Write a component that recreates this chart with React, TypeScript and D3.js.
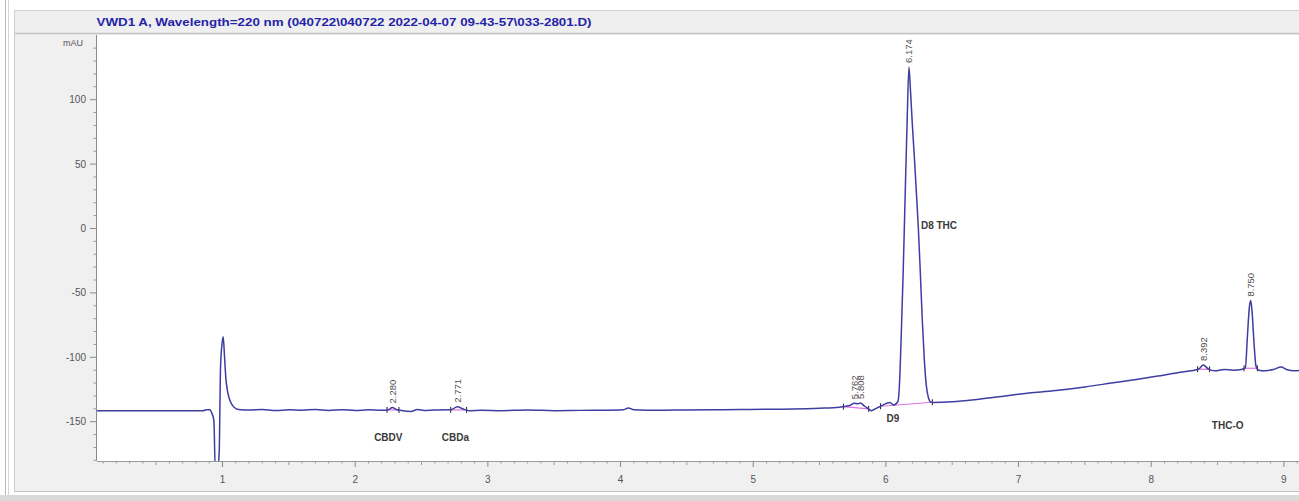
import React from "react";
import * as d3 from "d3";

// ---- data ----
const TITLE = "VWD1 A, Wavelength=220 nm (040722\\040722 2022-04-07 09-43-57\\033-2801.D)";
const Y_UNIT = "mAU";
const xTicks = [1, 2, 3, 4, 5, 6, 7, 8, 9];
const yTicks = [-150, -100, -50, 0, 50, 100];
const xDomain = [0.054, 9.114];
const yDomain = [-180.5, 150.2];

// detector trace: retention time (min) and absorbance (mAU)
const traceTime = [
  0.05, 0.5, 0.85, 0.88, 0.905, 0.92, 0.935, 0.945, 0.965, 0.975, 0.985, 0.995, 1.005, 1.015,
  1.025, 1.04, 1.06, 1.09, 1.12, 1.2, 1.3, 1.4, 1.5, 1.6, 1.7, 1.8, 1.9, 2.0, 2.1, 2.2, 2.25,
  2.28, 2.31, 2.35, 2.42, 2.47, 2.52, 2.6, 2.72, 2.771, 2.81, 2.86, 2.95, 3.1, 3.3, 3.5, 3.7,
  3.9, 4.02, 4.06, 4.1, 4.3, 4.5, 4.7, 4.9, 5.1, 5.3, 5.5, 5.65, 5.7, 5.73, 5.762, 5.79, 5.808,
  5.84, 5.87, 5.89, 5.93, 5.97, 6.0, 6.03, 6.06, 6.09, 6.1, 6.115, 6.13, 6.145, 6.16, 6.174,
  6.185, 6.2, 6.215, 6.23, 6.245, 6.26, 6.275, 6.29, 6.305, 6.32, 6.34, 6.36, 6.5, 6.7, 6.9,
  7.1, 7.3, 7.5, 7.7, 7.9, 8.05, 8.2, 8.3, 8.36, 8.392, 8.43, 8.48, 8.55, 8.62, 8.68, 8.71,
  8.725, 8.74, 8.75, 8.76, 8.775, 8.79, 8.81, 8.86, 8.92, 8.98, 9.02, 9.08, 9.14,
];
const traceMAU = [
  -141.5, -141.5, -141.5, -140.7, -140.8, -143.5, -149, -185, -185, -174, -108, -91, -84, -99,
  -116, -127.5, -134.5, -139, -140.5, -141, -140.5, -141.3, -140.8, -141.1, -140.5, -141.2,
  -140.7, -141.3, -140.8, -141.1, -140.7, -139, -140.5, -141.3, -142, -140.5, -141.2, -140.9,
  -140.8, -138.3, -140, -141.5, -141.1, -141.4, -141, -141.4, -141.2, -141.1, -140.8, -139.3,
  -140.7, -141.1, -140.9, -140.8, -140.6, -140.3, -140.1, -139.5, -138.7, -138, -137.3, -135.7,
  -136.1, -135.5, -138, -140, -141.5, -139.5, -137.5, -136, -135, -137, -134.5, -126, -86, -36,
  24, 82, 125.4, 108, 80, 55, 28, 0, -35, -72, -102, -122, -131, -134.8, -135, -134.5, -132.5,
  -130, -127.5, -125.5, -123, -120, -117, -114.5, -112, -110.5, -109, -106, -109, -110.5,
  -109.5, -110, -109.5, -108, -84, -61, -56, -64, -89, -107, -110, -110.5, -109.5, -107.5,
  -109.5, -110.5, -110,
];

// labelled apexes
const peakTimes = [2.28, 2.771, 5.762, 5.808, 6.174, 8.392, 8.75];
const peakLabels = ["2.280", "2.771", "5.762", "5.808", "6.174", "8.392", "8.750"];

// compound names
const compoundNames = ["CBDV", "CBDa", "D9", "D8 THC", "THC-O"];
const compoundTimes = [2.28, 2.771, 6.03, 6.174, 8.75];

// integration baselines (start / end retention times)
const baseStart = [2.24, 2.72, 5.68, 5.96, 8.35, 8.7];
const baseEnd = [2.33, 2.84, 5.87, 6.35, 8.44, 8.8];

// ---- layout ----
const W = 1299;
const H = 501;
const PL = 97;
const PT = 35;
const PB = 461;
const PR = W;

const FONT = "'Liberation Sans', Arial, sans-serif";

const namePlacement = [
  { dx: -4, y: 441, anchor: "middle" },
  { dx: -2, y: 441, anchor: "middle" },
  { dx: 3, y: 422, anchor: "middle" },
  { dx: 12, y: 229, anchor: "start" },
  { dx: -23, y: 429, anchor: "middle" },
];

function valueAt(t: number): number {
  const i = d3.bisectLeft(traceTime, t);
  if (i <= 0) return traceMAU[0];
  if (i >= traceTime.length) return traceMAU[traceMAU.length - 1];
  const t0 = traceTime[i - 1];
  const t1 = traceTime[i];
  const f = (t - t0) / (t1 - t0);
  return traceMAU[i - 1] + f * (traceMAU[i] - traceMAU[i - 1]);
}

export default function App() {
  const x = d3.scaleLinear().domain(xDomain).range([PL, PR]);
  const y = d3.scaleLinear().domain(yDomain).range([PB, PT]);

  const pts: [number, number][] = traceTime.map((t, i) => [t, traceMAU[i]]);
  const line = d3
    .line<[number, number]>()
    .x((d) => x(d[0]))
    .y((d) => y(d[1]))
    .curve(d3.curveMonotoneX);

  const yMinor = d3.range(-180, 151, 10).filter((v) => v % 50 !== 0);
  const xMinor = d3.range(0.1, 9.12, 0.1).filter((v) => Math.abs(v - Math.round(v)) > 0.01);

  return (
    <svg
      width={W}
      height={H}
      style={{ position: "absolute", left: 0, top: 0, display: "block", background: "#fff" }}
      fontFamily={FONT}
    >
      <defs>
        <clipPath id="plotClip">
          <rect x={PL} y={PT} width={PR - PL} height={PB - PT} />
        </clipPath>
      </defs>

      {/* window frame */}
      <rect x={0} y={0} width={W} height={H} fill="#fff" />
      <line x1={5.5} x2={5.5} y1={0} y2={H} stroke="#b8b8b8" />
      <line x1={8.5} x2={8.5} y1={0} y2={H} stroke="#d6d6d6" />
      <rect x={14.5} y={10.5} width={W} height={481} fill="#f0f0f0" stroke="#cfcfcf" />
      <rect x={15} y={11} width={W} height={22} fill="#efefef" />
      <line x1={15} x2={W} y1={33.5} y2={33.5} stroke="#c4c4c4" strokeWidth={1.5} />
      <rect x={0} y={495} width={W} height={6} fill="#dadada" />
      <line x1={14} x2={W} y1={491.5} y2={491.5} stroke="#c2c2c2" />

      {/* title */}
      <text
        x={344}
        y={26}
        textAnchor="middle"
        fontSize={10}
        fontWeight="bold"
        fill="#2424a8"
        textLength={495}
        lengthAdjust="spacingAndGlyphs"
      >
        {TITLE}
      </text>

      {/* plot area */}
      <rect x={PL} y={PT} width={PR - PL} height={PB - PT} fill="#fff" />

      {/* y axis */}
      <line x1={PL - 0.5} x2={PL - 0.5} y1={PT} y2={PB} stroke="#8a8a8a" />
      {yMinor.map((v) => (
        <line key={"ym" + v} x1={PL - 3.5} x2={PL} y1={y(v)} y2={y(v)} stroke="#9a9a9a" />
      ))}
      {yTicks.map((v) => (
        <g key={"y" + v}>
          <line x1={PL - 7} x2={PL} y1={y(v)} y2={y(v)} stroke="#8a8a8a" />
          <text x={PL - 11} y={y(v)} dy="0.35em" textAnchor="end" fontSize={10} fill="#555">
            {v}
          </text>
        </g>
      ))}
      <text x={73} y={46} textAnchor="middle" fontSize={9} fill="#555">
        {Y_UNIT}
      </text>

      {/* x axis */}
      <line x1={PL} x2={PR} y1={PB + 0.5} y2={PB + 0.5} stroke="#9a9a9a" />
      {xMinor.map((v) => (
        <line
          key={"xm" + v.toFixed(1)}
          x1={x(v)}
          x2={x(v)}
          y1={PB}
          y2={PB + (Math.abs(v * 2 - Math.round(v * 2)) < 0.01 ? 4 : 2.5)}
          stroke="#9a9a9a"
        />
      ))}
      {xTicks.map((v) => (
        <g key={"x" + v}>
          <line x1={x(v)} x2={x(v)} y1={PB} y2={PB + 6} stroke="#8a8a8a" />
          <text x={x(v)} y={483} textAnchor="middle" fontSize={10} fill="#555">
            {v}
          </text>
        </g>
      ))}

      <g clipPath="url(#plotClip)">
        {/* integration baselines */}
        {baseStart.map((t0, i) => {
          const t1 = baseEnd[i];
          const v0 = valueAt(t0);
          const v1 = valueAt(t1);
          return (
            <g key={"b" + i}>
              <line x1={x(t0)} y1={y(v0)} x2={x(t1)} y2={y(v1)} stroke="#e071e0" strokeWidth={1.2} />
              <line x1={x(t0)} x2={x(t0)} y1={y(v0) - 3} y2={y(v0) + 3} stroke="#222" />
              <line x1={x(t1)} x2={x(t1)} y1={y(v1) - 3} y2={y(v1) + 3} stroke="#222" />
            </g>
          );
        })}

        {/* signal */}
        <path d={line(pts) ?? ""} fill="none" stroke="#3d3da2" strokeWidth={1.5} strokeLinejoin="round" />

        {/* retention time labels */}
        {peakTimes.map((t, i) => {
          const px = x(t);
          const py = y(valueAt(t)) - 4;
          return (
            <text
              key={"p" + i}
              transform={`translate(${px},${py}) rotate(-90)`}
              dy="0.35em"
              fontSize={9.5}
              fill="#505050"
            >
              {peakLabels[i]}
            </text>
          );
        })}

        {/* compound names */}
        {compoundNames.map((n, i) => (
          <text
            key={"c" + i}
            x={x(compoundTimes[i]) + namePlacement[i].dx}
            y={namePlacement[i].y}
            textAnchor={namePlacement[i].anchor as any}
            fontSize={10}
            fontWeight="bold"
            fill="#3a3a3a"
          >
            {n}
          </text>
        ))}
      </g>
    </svg>
  );
}
